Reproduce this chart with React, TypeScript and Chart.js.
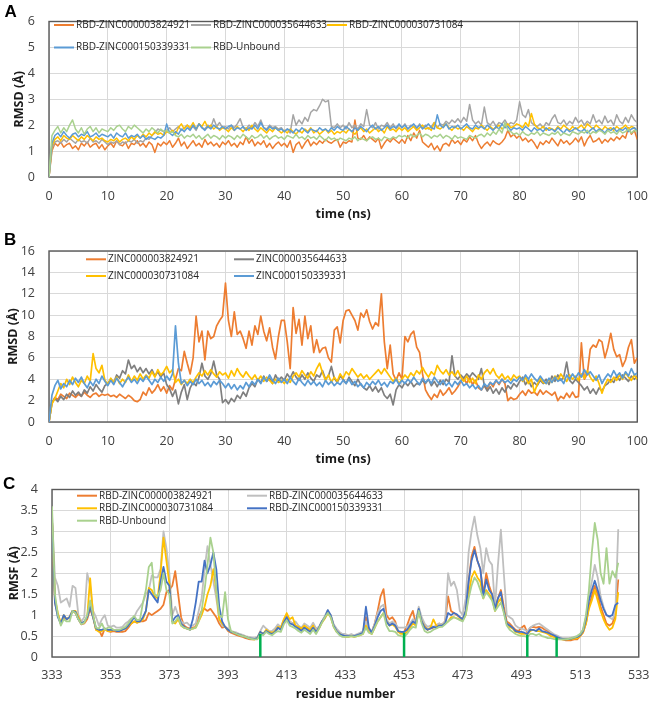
import React, { useEffect, useRef } from "react";
import { Chart, registerables } from "chart.js";

Chart.register(...registerables);

const FONT = "'Open Sans', 'Noto Sans', sans-serif";
const TICK_COLOR = "#404040";
const TITLE_COLOR = "#1a1a1a";
const LEGEND_COLOR = "#262626";
const GRID = "#D9D9D9";
const FRAME = "#595959";

// ---------------- Panel A: RMSD of RBD (time step 0.5 ns) ----------------
const A_TIME_STEP = 0.5;
const A_NAMES = ["RBD-ZINC000003824921", "RBD-ZINC000035644633", "RBD-ZINC000030731084", "RBD-ZINC000150339331", "RBD-Unbound"];
const A_COLORS = ["#ED7D31", "#A5A5A5", "#FFC000", "#5B9BD5", "#A9D18E"];

const A_3824921 = [
  0, 1.0, 1.3, 1.2, 1.35, 1.15, 1.25, 1.3, 1.1, 1.2, 1.05, 1.3, 1.2, 1.35, 1.15, 1.25, 1.3, 1.1, 1.25, 1.05,
  1.2, 1.3, 1.15, 1.4, 1.25, 1.2, 1.35, 1.1, 1.3, 1.25, 1.4, 1.2, 1.3, 1.15, 1.35, 1.25, 0.95, 1.3, 1.2, 1.35,
  1.25, 1.4, 1.15, 1.3, 1.5, 1.2, 1.35, 1.1, 1.25, 1.4, 1.2, 1.3, 1.15, 1.45, 1.25, 1.35, 1.2, 1.3, 1.15, 1.35,
  1.25, 1.4, 1.2, 1.3, 1.15, 1.35, 1.25, 1.55, 1.3, 1.45, 1.2, 1.35, 1.25, 1.4, 1.15, 1.3, 1.1, 1.25, 1.35, 1.2,
  1.3, 1.15, 1.4, 0.95, 1.25, 1.35, 1.1, 1.3, 1.45, 1.2, 1.35, 1.25, 1.4, 1.3, 1.45, 1.35, 1.3, 1.4, 1.45, 1.15,
  1.35, 1.3, 1.4, 1.35, 2.2, 1.5, 1.45, 1.6, 1.4, 1.55, 1.45, 1.35, 1.5, 1.1, 1.3, 1.45, 1.35, 1.5, 1.4, 1.3,
  1.45, 1.3, 1.6, 1.4, 1.7, 1.5, 1.8, 1.35, 1.25, 1.15, 1.3, 1.05, 1.2, 1.0, 1.25, 1.3, 1.2, 1.45, 1.3, 1.4,
  1.25, 1.45, 1.35, 1.55, 1.4, 1.6, 1.3, 1.1, 1.25, 1.35, 1.2, 1.4, 1.3, 1.25, 1.35, 1.5, 1.8, 1.55, 1.65, 1.5,
  1.6, 1.4, 1.5, 1.35, 1.45, 1.3, 1.1, 1.35, 1.25, 1.4, 1.3, 1.5, 1.35, 1.2, 1.45, 1.3, 1.4, 1.25, 1.35, 1.5,
  1.35, 1.55, 1.2, 1.45, 1.6, 1.35, 1.4, 1.5, 1.3, 1.45, 1.35, 1.5, 1.4, 1.55, 1.45, 1.6, 1.5, 1.9, 1.65, 1.8,
  1.45,
];
const A_35644633 = [
  0, 1.1, 1.35, 1.4, 1.3, 1.45, 1.35, 1.5, 1.4, 1.3, 1.45, 1.35, 1.4, 1.3, 1.5, 1.35, 1.4, 1.3, 1.45, 1.35,
  1.25, 1.35, 1.3, 1.4, 1.25, 1.35, 1.3, 1.4, 1.35, 1.45, 1.3, 1.4, 1.35, 1.5, 1.45, 1.6, 1.7, 1.85, 1.8, 1.75,
  1.8, 1.9, 1.75, 1.85, 1.95, 1.8, 1.9, 2.0, 1.85, 1.95, 1.8, 2.05, 1.9, 1.85, 2.0, 1.9, 2.25, 1.95, 2.1, 1.9,
  1.95, 1.85, 2.0, 1.9, 2.05, 2.25, 1.9, 1.85, 2.0, 1.9, 2.1, 1.95, 2.2, 1.9, 1.85, 2.0, 1.9, 1.95, 1.85, 1.9,
  1.75, 1.85, 1.7, 2.4, 2.0, 2.2, 2.05, 2.3, 2.15, 2.5, 2.6, 2.55, 2.75, 3.0, 2.9, 2.95, 1.95, 1.9, 2.05, 1.9,
  2.0, 1.85, 2.1, 1.9, 2.0, 1.85, 2.05, 1.95, 2.6, 2.0, 1.9, 2.1, 1.85, 2.0, 1.95, 2.1, 1.9, 2.05, 1.85, 2.0,
  1.9, 2.05, 1.85, 2.0, 1.95, 1.85, 2.05, 1.9, 2.0, 1.85, 1.95, 2.1, 1.9, 2.05, 2.0, 2.15, 2.05, 2.2, 2.1, 2.25,
  2.1, 2.3, 2.15, 2.8, 2.2, 2.05, 2.15, 2.0, 2.7, 2.1, 2.0, 2.15, 1.95, 2.1, 2.05, 2.2, 2.0, 2.1, 2.05, 2.2,
  2.9, 2.4, 2.3, 2.6, 2.1, 2.0, 1.95, 2.05, 1.9, 2.1, 2.0, 2.25, 2.4, 2.1, 2.05, 2.2, 2.0, 2.15, 2.05, 2.3,
  2.1, 2.2, 2.0, 2.15, 2.05, 2.4, 2.1, 2.2, 2.05, 2.35, 2.1, 2.2, 2.0, 2.4, 2.15, 2.05, 2.3, 2.1, 2.4, 2.2,
  2.1,
];
const A_30731084 = [
  0, 1.2, 1.45, 1.55, 1.4, 1.6, 1.5, 1.45, 1.6, 1.5, 1.4, 1.55, 1.45, 1.6, 1.5, 1.4, 1.55, 1.45, 1.5, 1.4,
  1.35, 1.45, 1.4, 1.5, 1.35, 1.45, 1.5, 1.4, 1.55, 1.45, 1.6, 1.5, 1.65, 1.55, 1.7, 1.6, 1.75, 1.65, 1.7, 1.6,
  1.75, 1.7, 1.8, 1.65, 1.9, 2.05, 1.85, 2.0, 1.9, 2.1, 1.85, 2.05, 1.95, 2.15, 1.9, 2.0, 1.85, 1.95, 1.8, 1.9,
  1.85, 1.75, 1.9, 1.8, 1.95, 1.85, 1.75, 1.9, 1.8, 2.0, 1.85, 1.75, 1.9, 1.8, 1.7, 1.85, 1.75, 1.9, 1.8, 1.7,
  1.8, 1.7, 1.85, 1.75, 1.65, 1.8, 1.7, 1.85, 1.75, 1.9, 1.7, 1.8, 1.65, 1.75, 1.85, 1.7, 1.8, 1.65, 1.75, 1.7,
  1.8, 1.7, 1.85, 1.75, 1.65, 1.8, 1.9, 1.75, 1.85, 1.7, 1.8, 1.9, 1.75, 1.85, 1.7, 1.95, 1.8, 1.85, 1.75, 1.9,
  1.8, 1.9, 1.75, 1.85, 1.95, 1.8, 1.9, 2.0, 1.85, 1.9, 1.8, 2.1, 1.9, 1.85, 1.95, 2.05, 1.9, 1.8, 1.95, 1.85,
  1.9, 1.8, 1.95, 1.85, 1.75, 1.9, 1.85, 2.0, 1.9, 1.8, 1.95, 1.85, 1.9, 2.0, 1.85, 1.95, 2.05, 1.9, 1.95, 2.05,
  2.0, 1.9, 2.1, 1.95, 2.45, 2.05, 1.9, 1.85, 1.95, 1.8, 1.9, 1.85, 1.8, 1.95, 1.85, 2.0, 1.9, 1.8, 1.95, 1.85,
  1.9, 2.0, 1.85, 2.05, 1.95, 1.85, 2.0, 1.9, 1.8, 1.95, 1.85, 1.9, 1.8, 1.95, 1.85, 1.9, 2.0, 1.85, 1.95, 1.9,
  1.8,
];
const A_150339331 = [
  0, 1.3, 1.6, 1.7, 1.55, 1.75, 1.6, 1.5, 1.65, 1.7, 1.55, 1.65, 1.6, 1.75, 1.55, 1.6, 1.7, 1.55, 1.65, 1.6,
  1.55, 1.65, 1.5, 1.7, 1.6, 1.55, 1.7, 1.5, 1.6, 1.55, 1.65, 1.5, 1.6, 1.45, 1.55, 1.5, 1.45, 1.55, 1.5, 1.6,
  2.05, 1.7, 1.6, 1.75, 1.65, 1.85, 1.75, 1.9, 1.8, 2.0, 1.85, 2.05, 1.9, 1.8, 1.95, 1.85, 2.0, 1.9, 1.85, 1.95,
  1.85, 1.95, 2.0, 1.8, 1.9, 1.85, 1.95, 1.8, 1.9, 1.85, 2.0, 1.85, 2.1, 1.9, 1.8, 1.95, 1.85, 1.9, 1.8, 1.85,
  1.75, 1.85, 1.8, 1.7, 1.85, 1.75, 1.9, 1.8, 1.7, 1.85, 1.8, 1.75, 1.9, 1.8, 1.85, 1.75, 1.9, 1.8, 1.95, 1.85,
  1.8, 1.95, 1.85, 1.75, 1.9, 1.8, 1.95, 1.85, 1.75, 1.9, 2.0, 1.85, 1.95, 1.8, 1.9, 2.0, 1.85, 1.95, 1.9, 2.05,
  1.9, 2.0, 1.85, 1.95, 2.05, 1.9, 2.0, 1.85, 1.95, 2.05, 1.9, 1.85, 2.4, 2.0, 1.9, 2.05, 1.85, 1.95, 1.9, 2.0,
  1.85, 1.95, 2.05, 1.9, 1.85, 2.0, 1.9, 1.95, 1.85, 2.0, 1.9, 1.8, 1.95, 1.85, 2.05, 1.9, 1.95, 1.8, 1.9, 1.85,
  1.9, 1.8, 1.95, 1.85, 1.75, 1.9, 1.8, 1.85, 1.75, 1.9, 1.8, 1.85, 1.75, 1.9, 1.8, 1.7, 1.85, 1.75, 1.8, 1.9,
  1.8, 1.75, 1.85, 1.7, 1.8, 1.9, 1.75, 1.85, 1.8, 1.7, 1.85, 1.8, 1.9, 1.75, 1.85, 1.8, 1.9, 1.75, 1.85, 1.9,
  1.8,
];
const A_UNBOUND = [
  0, 1.6, 1.8, 1.95, 1.7, 1.9, 1.75, 2.0, 2.2, 1.85, 1.7, 1.9, 1.65, 1.85, 1.95, 1.75, 1.9, 1.7, 1.85, 1.8,
  1.75, 1.9, 1.8, 1.95, 2.0, 1.85, 1.75, 1.95, 1.85, 2.0, 1.9, 1.8, 1.7, 1.85, 1.75, 1.9, 1.8, 1.7, 1.85, 1.75,
  1.8, 1.7, 1.75, 1.6, 1.55, 1.65, 1.5, 1.6, 1.55, 1.65, 1.5, 1.6, 1.45, 1.55, 1.65, 1.5, 1.6, 1.55, 1.45, 1.6,
  1.5, 1.6, 1.55, 1.45, 1.6, 1.5, 1.65, 1.55, 1.45, 1.6, 1.5, 1.55, 1.65, 1.5, 1.6, 1.45, 1.55, 1.6, 1.5, 1.55,
  1.45, 1.6, 1.55, 1.5, 1.65, 1.5, 1.55, 1.45, 1.6, 1.5, 1.55, 1.45, 1.6, 1.5, 1.4, 1.55, 1.45, 1.5, 1.4, 1.5,
  1.45, 1.4, 1.5, 1.45, 1.55, 1.4, 1.5, 1.45, 1.4, 1.5, 1.55, 1.45, 1.5, 1.4, 1.55, 1.5, 1.45, 1.55, 1.5, 1.6,
  1.55, 1.6, 1.5, 1.65, 1.55, 1.6, 1.7, 1.55, 1.65, 1.6, 1.5, 1.6, 1.55, 1.65, 1.5, 1.6, 1.55, 1.45, 1.6, 1.5,
  1.55, 1.5, 1.45, 1.6, 1.55, 1.5, 1.6, 1.65, 1.55, 1.7, 1.6, 1.75, 1.65, 1.85, 1.7, 2.1, 1.8, 1.75, 1.65, 1.7,
  1.6, 1.75, 1.65, 1.6, 1.7, 1.65, 1.75, 1.6, 1.7, 1.65, 1.6, 1.7, 1.65, 1.75, 1.6, 1.7, 1.65, 1.6, 1.75, 1.7,
  1.65, 1.75, 1.7, 1.8, 1.65, 1.75, 1.7, 1.8, 1.75, 1.65, 1.8, 1.7, 1.75, 1.65, 1.8, 1.7, 1.75, 1.85, 1.7, 1.8,
  1.75,
];
const A_SERIES = [A_3824921, A_35644633, A_30731084, A_150339331, A_UNBOUND];

// ---------------- Panel B: RMSD of ligands (time step 0.5 ns) ----------------
const B_TIME_STEP = 0.5;
const B_NAMES = ["ZINC000003824921", "ZINC000035644633", "ZINC000030731084", "ZINC000150339331"];
const B_COLORS = ["#ED7D31", "#7F7F7F", "#FFC000", "#5B9BD5"];

const B_3824921 = [
  0, 1.8, 2.3, 2.1, 2.6, 2.4, 2.2, 2.7, 2.5, 2.3, 2.6, 2.4, 2.8, 2.5, 2.3, 2.6, 2.7, 2.4, 2.6, 2.5,
  2.6, 2.4, 2.5, 2.3, 2.6, 2.4, 2.2, 2.5, 2.3, 2.0, 1.9, 2.1, 2.8, 2.5, 3.2, 2.7, 3.0, 3.5, 2.9, 3.3,
  2.7, 3.4, 3.0, 4.0, 5.0, 4.8, 6.6, 5.5, 4.5, 6.0, 9.9, 7.5, 8.5, 5.8, 8.5, 7.8, 8.0, 9.0, 9.5, 9.9,
  13.0, 9.5, 8.0, 10.3, 8.2, 8.5, 7.8, 6.9, 8.5, 7.2, 9.0, 8.2, 9.9, 8.5, 7.6, 8.8, 7.0, 5.9, 8.0, 9.5,
  9.5, 7.5, 5.0, 10.7, 8.3, 9.6, 7.2, 9.9, 7.8, 9.0, 6.5, 7.7, 6.5, 6.9, 7.0, 6.0, 5.6, 8.6, 8.9, 7.4,
  9.5, 10.4, 10.5, 10.0, 9.5, 8.6, 10.2, 9.8, 10.5, 9.4, 8.7, 9.3, 9.0, 12.0, 7.5, 5.0, 7.2, 4.5, 3.9, 4.6,
  4.0, 8.0, 7.5, 8.2, 8.5, 7.0, 6.5, 4.5, 3.0, 2.5, 2.1, 2.6, 2.3, 3.0, 2.5, 2.8, 3.2, 2.6, 2.9, 3.3,
  3.8, 4.1, 3.6, 4.2, 3.5, 3.9, 3.2, 3.0, 3.4, 3.1, 3.7, 3.3, 3.9, 3.5, 4.0, 3.6, 2.0, 2.3, 2.1, 2.2,
  2.6, 2.9, 2.5, 3.0, 2.7, 2.8, 2.5, 3.0, 2.6, 2.9, 2.7, 2.5, 2.8, 2.0, 2.4, 2.2, 2.7, 2.3, 2.8, 2.3,
  2.4, 7.4, 4.0, 4.5, 6.8, 7.2, 7.0, 7.7, 7.5, 6.0, 7.0, 8.3, 6.8, 6.1, 6.3, 5.2, 5.8, 7.0, 7.7, 5.5,
  6.0,
];
const B_35644633 = [
  0, 1.8, 2.2, 1.9, 2.4, 2.1, 2.6, 2.3, 2.9, 2.5, 2.8, 2.4, 3.0, 2.7, 3.3, 2.9, 3.5, 3.1, 2.8, 3.4,
  3.6, 4.0, 3.7, 4.4, 4.1, 4.8, 4.5, 5.8, 5.0, 5.3, 4.7, 5.1, 4.6, 5.0, 4.5, 4.9, 4.3, 4.7, 4.2, 4.6,
  3.5, 3.1, 2.4, 3.0, 1.7, 2.8, 3.5, 2.1, 3.2, 3.7, 3.4, 4.2, 5.5, 4.3, 4.0, 4.5, 5.7, 4.4, 4.0, 1.8,
  2.1, 1.7, 2.2, 1.9, 2.5, 2.2, 2.8, 2.4, 3.2, 3.6, 3.3, 4.0, 3.7, 4.3, 3.8, 4.1, 3.6, 4.4, 3.9, 4.2,
  3.9, 4.5, 4.1, 4.7, 4.2, 3.9, 4.4, 4.0, 4.6, 4.1, 3.8, 4.4, 4.2, 4.8, 4.0, 4.3, 5.2, 4.1, 3.7, 4.3,
  4.0, 3.6, 4.2, 3.8, 3.4, 4.0, 3.5, 3.2, 3.0, 3.4, 2.9, 3.3, 2.8, 3.2, 2.5, 2.2, 2.6, 1.6, 3.0, 3.5,
  3.2, 3.7, 3.4, 3.8, 3.3, 3.6, 3.5, 3.9, 3.6, 4.0, 3.4, 3.8, 3.3, 3.9, 3.5, 4.0, 3.7, 6.2, 4.3, 4.0,
  4.4, 4.1, 4.5, 4.2, 4.6, 4.3, 4.0, 5.0, 3.4, 2.9, 3.3, 2.7, 3.1, 2.6, 3.2, 2.8, 3.4, 3.1, 3.6, 3.3,
  3.8, 4.2, 3.5, 3.9, 3.3, 3.7, 3.4, 3.9, 3.6, 4.0, 3.5, 4.3, 3.8, 4.4, 3.9, 4.2, 5.6, 3.9, 3.6, 4.0,
  3.7, 3.4, 3.0, 3.3, 2.7, 3.1, 2.6, 3.2, 2.9, 3.4, 3.6, 4.0, 3.7, 4.3, 3.9, 4.4, 4.1, 3.8, 4.3, 4.0,
  4.3,
];
const B_30731084 = [
  0, 1.7, 2.2, 2.9, 3.6, 3.2, 4.0, 3.5, 4.2, 3.7, 3.3, 3.9, 3.6, 4.3, 3.8, 6.4, 5.0, 4.6, 5.3, 3.9,
  3.5, 4.1, 3.7, 4.2, 3.6, 4.0, 3.7, 4.4, 3.8, 4.3, 3.9, 4.5, 4.0, 4.4, 4.1, 4.7, 4.2, 4.9, 4.4, 4.7,
  5.2, 4.6, 4.9, 3.7, 4.0, 3.5, 3.9, 3.6, 4.0, 3.7, 4.2, 4.6, 4.3, 4.8, 4.4, 4.9, 4.5, 4.2, 4.7, 4.4,
  4.6, 4.1, 4.8, 4.3, 5.0, 4.5, 4.2, 4.7, 4.3, 4.0, 4.4, 3.9, 4.3, 3.8, 4.2, 3.9, 3.6, 4.0, 3.7, 3.9,
  3.6, 4.0, 3.7, 4.3, 4.6, 4.2, 4.8, 4.4, 4.1, 4.7, 4.3, 5.0, 5.5, 4.6, 3.9, 4.4, 3.7, 4.2, 3.8, 4.5,
  4.1, 4.7, 4.4, 5.0, 4.6, 4.2, 4.5, 4.1, 4.4, 4.0, 4.3, 4.6, 4.9, 4.5, 5.0, 4.6, 4.2, 3.8, 4.1, 3.6,
  4.0, 4.4, 4.1, 4.6, 4.3, 4.8, 4.5, 5.1, 4.6, 4.2, 4.7, 4.4, 5.3, 4.8, 4.5, 4.9, 4.4, 4.7, 4.3, 4.8,
  4.2, 3.8, 4.3, 3.7, 4.1, 3.6, 4.4, 4.0, 4.6, 4.9, 4.5, 5.0, 4.4, 4.1, 4.5, 4.0, 4.3, 3.9, 4.4, 4.1,
  4.3, 3.8, 4.2, 3.6, 4.0, 2.8, 3.5, 4.1, 3.7, 3.6, 4.0, 3.7, 4.3, 3.9, 4.5, 4.1, 3.8, 4.4, 4.0, 4.3,
  3.9, 4.5, 4.1, 4.8, 4.2, 3.8, 4.3, 3.6, 2.7, 3.5, 4.0, 3.7, 4.2, 3.9, 4.4, 4.0, 4.6, 4.2, 3.9, 4.4,
  4.0,
];
const B_150339331 = [
  0, 2.5, 3.4, 3.9, 3.1, 3.6, 3.3, 3.9, 3.5, 4.1, 3.7, 4.2, 3.6, 3.2, 3.8, 3.4, 4.0, 3.6, 4.3, 3.8,
  3.4, 3.9, 3.5, 4.1, 3.7, 3.3, 3.8, 4.2, 3.7, 4.0, 3.6, 4.1, 3.8, 4.3, 3.9, 3.5, 4.0, 3.7, 4.2, 3.8,
  4.3, 3.9, 4.5, 9.0, 5.5, 3.6, 3.9, 3.4, 3.8, 3.5, 4.0, 3.6, 3.9, 3.4, 3.7, 3.3, 3.8, 3.5, 3.9, 3.6,
  3.2, 3.6, 3.1, 3.5, 3.0, 3.4, 3.1, 3.7, 3.3, 3.8, 3.5, 4.0, 3.6, 4.2, 3.8, 4.4, 3.9, 3.6, 4.1, 3.7,
  4.0, 3.6, 4.2, 3.8, 3.5, 4.1, 3.7, 3.4, 3.9, 3.5, 3.8, 3.4, 3.7, 3.3, 3.9, 3.5, 3.8, 3.4, 3.7, 3.5,
  3.9, 3.6, 4.0, 3.5, 3.8, 3.3, 3.6, 3.2, 3.7, 3.4, 3.8, 3.5, 3.9, 3.4, 3.7, 3.3, 3.8, 3.6, 4.0, 3.5,
  3.9, 3.6, 4.0, 3.7, 4.2, 3.8, 3.5, 4.1, 3.7, 4.0, 3.6, 4.2, 3.8, 3.5, 3.9, 3.4, 3.7, 3.3, 3.8, 3.5,
  3.9, 3.4, 3.6, 3.2, 3.5, 3.1, 3.4, 3.0, 3.6, 3.3, 3.7, 3.5, 3.9, 3.6, 4.0, 3.7, 3.9, 3.6, 4.0, 3.8,
  4.2, 3.9, 4.4, 4.0, 4.5, 4.1, 3.8, 4.3, 3.9, 3.6, 4.1, 3.7, 4.2, 3.8, 4.0, 3.6, 4.4, 4.0, 4.5, 4.1,
  4.6, 4.2, 4.9, 4.4, 4.7, 4.3, 3.9, 4.4, 3.6, 4.1, 4.5, 4.2, 4.8, 4.3, 4.6, 4.1, 4.7, 4.3, 5.0, 4.4,
  4.6,
];
const B_SERIES = [B_3824921, B_35644633, B_30731084, B_150339331];

// ---------------- Panel C: RMSF per residue (residues 333..526) ----------------
const C_FIRST_RESIDUE = 333;
const C_NAMES = ["RBD-ZINC000003824921", "RBD-ZINC000035644633", "RBD-ZINC000030731084", "RBD-ZINC000150339331", "RBD-Unbound"];
const C_COLORS = ["#ED7D31", "#BFBFBF", "#FFC000", "#4472C4", "#A9D18E"];

const C_3824921 = [
  3.3, 1.3, 1.0, 0.8, 0.95, 0.9, 0.95, 1.1, 1.05, 0.9,
  0.78, 0.8, 0.9, 1.15, 0.95, 0.65, 0.65, 0.5, 0.68, 0.62,
  0.6, 0.62, 0.6, 0.6, 0.6, 0.62, 0.7, 0.8, 0.85, 0.82,
  0.85, 0.85, 0.88, 1.05, 1.0, 1.05, 1.1, 1.15, 1.25, 1.55,
  1.6, 1.7, 2.05, 1.5, 0.95, 0.75, 0.7, 0.68, 0.7, 0.72,
  0.95, 1.1, 1.15, 1.1, 1.15, 1.05, 0.95, 0.8, 0.7, 0.72,
  0.62, 0.58, 0.55, 0.52, 0.5, 0.48, 0.45, 0.43, 0.42, 0.42,
  0.45, 0.58, 0.55, 0.62, 0.58, 0.55, 0.6, 0.7, 0.68, 0.85,
  1.0, 0.85, 0.8, 0.75, 0.7, 0.65, 0.72, 0.68, 0.62, 0.75,
  0.6, 0.7, 0.85, 0.95, 1.05, 1.0, 0.75, 0.65, 0.58, 0.52,
  0.5, 0.5, 0.52, 0.5, 0.52, 0.55, 0.6, 0.95, 0.65, 0.6,
  0.8, 1.1, 1.45, 1.62, 1.0, 0.9, 0.95, 0.85, 0.6, 0.6,
  0.6, 0.75, 0.95, 1.1, 0.8, 1.15, 0.85, 0.75, 0.65, 0.68,
  0.7, 0.75, 0.8, 0.78, 0.85, 1.45, 1.1, 1.05, 1.0, 0.95,
  0.9, 1.1, 1.8, 2.4, 2.63, 2.3, 2.1, 1.5, 2.0, 1.7,
  1.5, 1.15, 1.4, 1.6, 1.2, 0.85, 0.8, 0.72, 0.65, 0.62,
  0.7, 0.75, 0.58, 0.7, 0.72, 0.7, 0.72, 0.7, 0.65, 0.62,
  0.55, 0.5, 0.48, 0.45, 0.42, 0.4, 0.4, 0.4, 0.42, 0.42,
  0.5, 0.58, 0.8, 1.2, 1.45, 1.7, 1.5, 1.2, 1.0, 0.8, 0.75, 0.8, 1.0, 1.85,
];
const C_35644633 = [
  3.4, 1.9, 1.7, 1.3, 1.35, 1.4, 1.2, 1.7, 1.65, 1.0,
  0.85, 0.95, 2.0, 1.7, 1.1, 0.95, 0.75, 0.9, 1.0, 0.75,
  0.72, 0.75, 0.7, 0.7, 0.72, 0.8, 0.85, 0.92, 0.95, 1.1,
  1.2, 1.3, 1.5, 1.6, 1.95, 1.9, 1.9, 2.1, 3.0, 2.6,
  2.0, 1.0, 1.2, 1.0, 0.85, 0.8, 0.82, 0.75, 0.75, 0.8,
  1.1, 1.4, 2.1, 2.65, 2.2, 1.8, 1.4, 0.9, 0.75, 0.72,
  0.68, 0.62, 0.6, 0.58, 0.55, 0.53, 0.5, 0.48, 0.46, 0.45,
  0.48, 0.62, 0.75, 0.68, 0.62, 0.62, 0.68, 0.78, 0.72, 0.88,
  0.95, 0.85, 0.8, 0.85, 0.75, 0.7, 0.8, 0.75, 0.7, 0.82,
  0.68, 0.72, 0.85, 0.98, 1.12, 1.0, 0.78, 0.68, 0.6, 0.55,
  0.55, 0.52, 0.55, 0.52, 0.55, 0.58, 0.62, 0.85, 0.65, 0.6,
  0.8, 1.05, 1.2, 1.25, 0.9, 0.8, 0.85, 0.8, 0.7, 0.7,
  0.7, 0.72, 0.8, 0.9, 0.85, 1.2, 0.95, 0.8, 0.72, 0.75,
  0.72, 0.75, 0.8, 0.78, 0.85, 2.0, 1.7, 1.8, 1.6, 1.1,
  1.0, 1.4, 2.5, 3.0, 3.35, 2.9, 2.6, 2.0, 2.6, 2.3,
  2.2, 1.2, 2.2, 3.04, 2.0, 1.0, 0.95, 0.9, 0.75, 0.7,
  0.68, 0.65, 0.62, 0.7, 0.75, 0.78, 0.8, 0.75, 0.7, 0.65,
  0.6, 0.55, 0.52, 0.48, 0.45, 0.45, 0.45, 0.46, 0.48, 0.5,
  0.55, 0.65, 0.95, 1.45, 1.8, 2.2, 1.9, 1.45, 1.2, 1.0, 0.95, 0.9, 1.05, 3.05,
];
const C_30731084 = [
  3.3, 1.4, 1.05, 0.8, 1.0, 0.9, 0.95, 1.1, 1.1, 0.95,
  0.8, 0.82, 0.95, 1.88, 1.0, 0.65, 0.6, 0.62, 0.65, 0.62,
  0.62, 0.65, 0.62, 0.62, 0.65, 0.68, 0.75, 0.8, 0.85, 0.82,
  0.85, 0.9, 1.1, 1.65, 1.6, 1.45, 1.4, 2.0, 2.85, 2.3,
  1.75, 0.85, 0.8, 0.9, 0.75, 0.7, 0.68, 0.65, 0.68, 0.7,
  0.85, 1.0, 1.2, 1.5, 1.7, 2.1, 1.6, 0.9, 0.8, 0.72,
  0.65, 0.6, 0.58, 0.55, 0.52, 0.5, 0.48, 0.45, 0.43, 0.42,
  0.45, 0.6, 0.55, 0.65, 0.6, 0.58, 0.62, 0.72, 0.7, 0.9,
  1.05, 0.9, 0.95, 0.75, 0.72, 0.68, 0.75, 0.7, 0.65, 0.75,
  0.58, 0.68, 0.82, 0.92, 1.05, 0.95, 0.72, 0.6, 0.55, 0.5,
  0.48, 0.48, 0.5, 0.48, 0.5, 0.52, 0.55, 0.75, 0.6, 0.55,
  0.7, 0.85, 0.95, 1.05, 0.85, 0.75, 0.78, 0.72, 0.6, 0.55,
  0.55, 0.6, 0.7, 0.8, 0.75, 1.1, 0.85, 0.72, 0.65, 0.7,
  0.9, 0.75, 0.72, 0.75, 0.8, 0.85, 0.95, 0.95, 0.92, 0.9,
  0.88, 1.0, 1.5, 1.9, 2.05, 1.9, 1.8, 1.4, 1.6, 1.5,
  1.4, 1.1, 1.3, 1.4, 1.1, 0.8, 0.72, 0.68, 0.6, 0.58,
  0.55, 0.55, 0.55, 0.62, 0.65, 0.62, 0.62, 0.6, 0.58, 0.55,
  0.5, 0.48, 0.45, 0.43, 0.42, 0.42, 0.42, 0.43, 0.44, 0.45,
  0.5, 0.6, 0.8, 1.15, 1.35, 1.6, 1.35, 1.1, 0.9, 0.75, 0.65, 0.7, 0.9, 1.55,
];
const C_150339331 = [
  3.3, 1.3, 0.95, 0.8, 1.0, 0.9, 0.95, 1.1, 1.08, 0.9,
  0.8, 0.85, 0.95, 1.2, 0.95, 0.68, 0.65, 0.65, 0.68, 0.65,
  0.65, 0.65, 0.62, 0.62, 0.65, 0.68, 0.75, 0.85, 0.95, 0.85,
  0.85, 0.95, 1.1, 1.6, 1.5, 1.4, 1.3, 1.8, 2.15, 1.8,
  1.7, 0.85, 0.95, 1.0, 0.8, 0.72, 0.68, 0.65, 0.9, 1.3,
  1.8, 1.8, 2.3, 2.0, 2.2, 2.5, 2.1, 1.2, 0.85, 0.72,
  0.65, 0.6, 0.58, 0.55, 0.53, 0.5, 0.48, 0.45, 0.44, 0.43,
  0.45, 0.6, 0.55, 0.62, 0.58, 0.55, 0.6, 0.7, 0.65, 0.82,
  0.95, 0.8, 0.78, 0.72, 0.68, 0.62, 0.7, 0.65, 0.6, 0.7,
  0.6, 0.7, 0.85, 0.95, 1.12, 1.0, 0.75, 0.62, 0.55, 0.52,
  0.5, 0.5, 0.5, 0.5, 0.52, 0.55, 0.58, 1.2, 0.7, 0.58,
  0.75, 0.95, 1.1, 1.15, 0.85, 0.75, 0.8, 0.75, 0.62, 0.6,
  0.6, 0.65, 0.75, 0.85, 0.8, 1.15, 0.85, 0.7, 0.65, 0.68,
  0.72, 0.7, 0.75, 0.75, 0.8, 1.05, 1.0, 1.05, 1.02, 0.95,
  0.9, 1.1, 1.8, 2.3, 2.55, 2.3, 2.1, 1.45, 1.85, 1.6,
  1.5, 1.15, 1.4, 1.55, 1.1, 0.8, 0.75, 0.7, 0.62, 0.6,
  0.6, 0.58, 0.55, 0.65, 0.65, 0.62, 0.68, 0.62, 0.6, 0.58,
  0.55, 0.52, 0.48, 0.45, 0.43, 0.42, 0.43, 0.44, 0.46, 0.48,
  0.52, 0.62, 0.9, 1.35, 1.6, 1.82, 1.6, 1.35, 1.15, 1.0, 0.97, 1.0, 1.24, 1.3,
];
const C_UNBOUND = [
  3.6, 1.5, 1.0, 0.75, 0.9, 0.85, 0.85, 1.1, 1.05, 0.9,
  0.78, 0.82, 1.0, 1.35, 1.0, 0.7, 0.68, 0.8, 0.65, 0.7,
  0.7, 0.65, 0.65, 0.65, 0.68, 0.72, 0.8, 0.9, 0.98, 0.88,
  0.9, 1.3, 1.6, 2.15, 2.25, 1.5, 1.45, 1.6, 2.0, 1.6,
  1.5, 0.8, 0.85, 0.95, 0.75, 0.7, 0.68, 0.65, 0.68, 0.7,
  0.85, 1.1, 1.6, 2.2, 2.85, 2.5, 1.6, 1.0, 0.95, 1.55,
  0.9, 0.62, 0.58, 0.55, 0.52, 0.5, 0.48, 0.45, 0.43, 0.42,
  0.42, 0.55, 0.52, 0.6, 0.55, 0.52, 0.58, 0.62, 0.6, 0.78,
  0.88, 0.75, 0.72, 0.68, 0.62, 0.58, 0.65, 0.6, 0.55, 0.65,
  0.55, 0.68, 0.82, 0.95, 1.05, 0.95, 0.72, 0.6, 0.52, 0.48,
  0.48, 0.48, 0.5, 0.48, 0.5, 0.52, 0.55, 0.7, 0.58, 0.55,
  0.7, 0.85, 0.95, 1.05, 0.75, 0.62, 0.62, 0.6, 0.52, 0.5,
  0.48, 0.55, 0.65, 0.72, 0.7, 1.1, 0.8, 0.62, 0.58, 0.6,
  0.65, 0.68, 0.72, 0.72, 0.78, 0.85, 0.9, 0.95, 0.92, 0.88,
  0.85, 1.0, 1.4, 1.7, 1.9, 1.8, 1.6, 1.4, 1.55, 1.45,
  1.35, 1.1, 1.2, 1.3, 1.05, 0.75, 0.65, 0.6, 0.55, 0.52,
  0.5, 0.5, 0.48, 0.55, 0.55, 0.52, 0.55, 0.5, 0.48, 0.45,
  0.45, 0.43, 0.42, 0.42, 0.42, 0.42, 0.43, 0.45, 0.47, 0.5,
  0.55, 0.65, 1.0, 1.6, 2.5, 3.2, 2.8, 2.0, 1.75, 2.6, 1.75, 2.05, 1.9, 2.25,
];
const C_SERIES = [C_3824921, C_35644633, C_30731084, C_150339331, C_UNBOUND];

// binding-site residue markers (green bars)
const C_MARKER_RESIDUES = [404, 453, 495, 505];
const C_MARKER_VALUES = [0.55, 0.58, 0.53, 0.47];
const C_MARKER_COLOR = "#00B050";

// ---------------- helpers ----------------
type LegendItem = { text: string; color: string; x: number; y: number };

function toPoints(values: number[], start: number, step: number) {
  return values.map((v, i) => ({ x: start + i * step, y: v }));
}

function makePlugin(items: LegendItem[]) {
  return {
    id: "frameLegend",
    beforeDatasetsDraw(chart: any) {
      const { ctx, chartArea: a } = chart;
      ctx.save();
      ctx.strokeStyle = FRAME;
      ctx.lineWidth = 1.4;
      ctx.strokeRect(a.left, a.top, a.right - a.left, a.bottom - a.top);
      ctx.restore();
    },
    afterDraw(chart: any) {
      const ctx = chart.ctx;
      ctx.save();
      ctx.font = `10px ${FONT}`;
      ctx.textBaseline = "middle";
      ctx.textAlign = "left";
      for (const it of items) {
        ctx.strokeStyle = it.color;
        ctx.lineWidth = 2;
        ctx.beginPath();
        ctx.moveTo(it.x, it.y);
        ctx.lineTo(it.x + 20, it.y);
        ctx.stroke();
        ctx.fillStyle = LEGEND_COLOR;
        ctx.fillText(it.text, it.x + 22, it.y);
      }
      ctx.restore();
    },
  };
}

type Spec = {
  height: number;
  padTop: number;
  plotLeft: number;
  xAxisHeight: number;
  xMin: number; xMax: number; xStep: number;
  yMin: number; yMax: number; yStep: number;
  xTitle: string; yTitle: string;
  xTickPad: number; xTitlePad: number; yTickPad: number; yTitlePad: number;
  datasets: any[];
  legend: LegendItem[];
};

function buildConfig(s: Spec): any {
  const tickFont = { family: FONT, size: 12.5 };
  const titleFont = { family: FONT, size: 12.5, weight: "bold" };
  return {
    type: "line",
    data: { datasets: s.datasets },
    options: {
      responsive: false,
      animation: false,
      maintainAspectRatio: false,
      layout: { padding: { top: s.padTop, right: 12, left: 0, bottom: 0 } },
      plugins: { legend: { display: false }, tooltip: { enabled: false }, title: { display: false } },
      elements: { point: { radius: 0 }, line: { tension: 0, borderJoinStyle: "round" } },
      scales: {
        x: {
          type: "linear",
          min: s.xMin,
          max: s.xMax,
          afterFit: (sc: any) => { sc.height = s.xAxisHeight; },
          grid: { color: GRID, drawTicks: false, lineWidth: 1 },
          border: { display: false },
          ticks: {
            stepSize: s.xStep, padding: s.xTickPad, color: TICK_COLOR, font: tickFont,
            maxRotation: 0, autoSkip: false, callback: (v: any) => String(v),
          },
          title: { display: true, text: s.xTitle, color: TITLE_COLOR, font: titleFont, padding: { top: 0, bottom: s.xTitlePad } },
        },
        y: {
          type: "linear",
          min: s.yMin,
          max: s.yMax,
          afterFit: (sc: any) => { sc.width = s.plotLeft; },
          grid: { color: GRID, drawTicks: false, lineWidth: 1 },
          border: { display: false },
          ticks: { stepSize: s.yStep, padding: s.yTickPad, color: TICK_COLOR, font: tickFont, callback: (v: any) => String(v) },
          title: { display: true, text: s.yTitle, color: TITLE_COLOR, font: titleFont, padding: { top: s.yTitlePad, bottom: 0 } },
        },
      },
    },
    plugins: [makePlugin(s.legend)],
  };
}

function Panel({ spec, top }: { spec: Spec; top: number }) {
  const ref = useRef<HTMLCanvasElement>(null);
  useEffect(() => {
    if (!ref.current) return;
    const chart = new Chart(ref.current, buildConfig(spec));
    return () => chart.destroy();
  }, []);
  return (
    <canvas
      ref={ref}
      width={660}
      height={spec.height}
      style={{ position: "absolute", left: 0, top, width: 660, height: spec.height }}
    />
  );
}

// ---------------- panel specs ----------------
const specA: Spec = {
  height: 226, padTop: 10, plotLeft: 49, xAxisHeight: 49,
  xMin: 0, xMax: 100, xStep: 10, yMin: 0, yMax: 6, yStep: 1,
  xTitle: "time (ns)", yTitle: "RMSD (Å)",
  xTickPad: 12, xTitlePad: 4.5, yTickPad: 14, yTitlePad: 11.5,
  datasets: A_SERIES.map((arr, i) => ({
    label: A_NAMES[i], data: toPoints(arr, 0, A_TIME_STEP), borderColor: A_COLORS[i],
    borderWidth: 1.5, order: A_SERIES.length - i,
  })),
  legend: [
    { text: A_NAMES[0], color: A_COLORS[0], x: 54, y: 25 },
    { text: A_NAMES[1], color: A_COLORS[1], x: 191, y: 25 },
    { text: A_NAMES[2], color: A_COLORS[2], x: 327, y: 25 },
    { text: A_NAMES[3], color: A_COLORS[3], x: 54, y: 47.5 },
    { text: A_NAMES[4], color: A_COLORS[4], x: 191, y: 47.5 },
  ],
};

const specB: Spec = {
  height: 242, padTop: 25, plotLeft: 49, xAxisHeight: 46,
  xMin: 0, xMax: 100, xStep: 10, yMin: 0, yMax: 16, yStep: 2,
  xTitle: "time (ns)", yTitle: "RMSD (Å)",
  xTickPad: 12, xTitlePad: 1.5, yTickPad: 14, yTitlePad: 5.8,
  datasets: B_SERIES.map((arr, i) => ({
    label: B_NAMES[i], data: toPoints(arr, 0, B_TIME_STEP), borderColor: B_COLORS[i],
    borderWidth: 1.7, order: B_SERIES.length - i,
  })),
  legend: [
    { text: B_NAMES[0], color: B_COLORS[0], x: 86, y: 33.3 },
    { text: B_NAMES[1], color: B_COLORS[1], x: 234, y: 33.3 },
    { text: B_NAMES[2], color: B_COLORS[2], x: 86, y: 50 },
    { text: B_NAMES[3], color: B_COLORS[3], x: 234, y: 50 },
  ],
};

const markerPoints: any[] = [];
C_MARKER_RESIDUES.forEach((r, i) => {
  markerPoints.push({ x: r, y: 0 }, { x: r, y: C_MARKER_VALUES[i] }, { x: r, y: null });
});

const specC: Spec = {
  height: 234, padTop: 16, plotLeft: 52, xAxisHeight: 45,
  xMin: 333, xMax: 533, xStep: 20, yMin: 0, yMax: 4, yStep: 0.5,
  xTitle: "residue number", yTitle: "RMSF (Å)",
  xTickPad: 10.5, xTitlePad: 0, yTickPad: 14, yTitlePad: 6.5,
  datasets: [
    ...C_SERIES.map((arr, i) => ({
      label: C_NAMES[i], data: toPoints(arr, C_FIRST_RESIDUE, 1), borderColor: C_COLORS[i],
      borderWidth: 1.8, order: C_SERIES.length - i,
    })),
    { label: "markers", data: markerPoints, borderColor: C_MARKER_COLOR, borderWidth: 2.5, spanGaps: false, order: -1, borderCapStyle: "butt" },
  ],
  legend: [
    { text: C_NAMES[0], color: C_COLORS[0], x: 77, y: 27.7 },
    { text: C_NAMES[1], color: C_COLORS[1], x: 247, y: 27.7 },
    { text: C_NAMES[2], color: C_COLORS[2], x: 77, y: 40.3 },
    { text: C_NAMES[3], color: C_COLORS[3], x: 247, y: 40.3 },
    { text: C_NAMES[4], color: C_COLORS[4], x: 77, y: 52.7 },
  ],
};

const letterStyle = (left: number, top: number): React.CSSProperties => ({
  position: "absolute", left, top, fontFamily: "'Liberation Sans', Arial, sans-serif",
  fontWeight: "bold", fontSize: 17, lineHeight: "17px", color: "#000",
});

export default function App() {
  return (
    <div style={{ position: "absolute", left: 0, top: 0, width: 660, height: 702, background: "#fff", overflow: "hidden" }}>
      <Panel spec={specA} top={0} />
      <Panel spec={specB} top={226} />
      <Panel spec={specC} top={468} />
      <div style={letterStyle(4.5, 2.7)}>A</div>
      <div style={letterStyle(4, 230.7)}>B</div>
      <div style={letterStyle(3, 475)}>C</div>
    </div>
  );
}
